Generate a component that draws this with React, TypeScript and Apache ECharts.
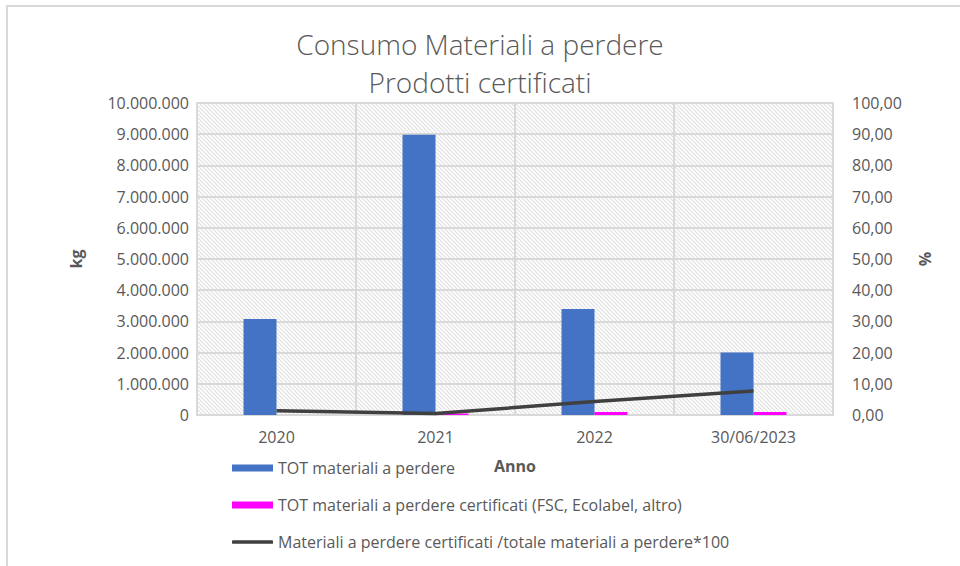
import React, { useEffect, useRef } from "react";
import * as echarts from "echarts";

const categories = ["2020", "2021", "2022", "30/06/2023"];
const totMateriali = [3080000, 8980000, 3400000, 2000000];
const totCertificati = [0, 45000, 100000, 95000];
const percentuale = [1.4, 0.5, 4.3, 7.7];

const seriesNames = [
  "TOT materiali a perdere",
  "TOT materiali a perdere certificati (FSC, Ecolabel, altro)",
  "Materiali a perdere certificati /totale materiali a perdere*100",
];
const titleLines = ["Consumo Materiali a perdere", "Prodotti certificati"];

const FONT = "'Open Sans', 'Noto Sans', sans-serif";
const GREY = "#595959";

function makeHatch(): any {
  const c = document.createElement("canvas");
  c.width = 8;
  c.height = 8;
  const ctx = c.getContext("2d")!;
  ctx.fillStyle = "#ffffff";
  ctx.fillRect(0, 0, 8, 8);
  ctx.strokeStyle = "#e0e0e0";
  ctx.lineWidth = 1.2;
  for (let k = -12; k <= 12; k += 4) {
    ctx.beginPath();
    ctx.moveTo(-2, -2 + k);
    ctx.lineTo(10, 10 + k);
    ctx.stroke();
  }
  return { image: c.toDataURL(), repeat: "repeat", imageWidth: 8, imageHeight: 8 };
}

const fmtKg = (v: number) => String(Math.round(v)).replace(/\B(?=(\d{3})+(?!\d))/g, ".");
const fmtPct = (v: number) => v.toFixed(2).replace(".", ",");

export default function App() {
  const ref = useRef<HTMLDivElement>(null);
  useEffect(() => {
    if (!ref.current) return;
    const chart = echarts.init(ref.current, null, { renderer: "svg" });
    const legendBase = {
      orient: "horizontal",
      left: 232,
      padding: 0,
      itemWidth: 41,
      itemHeight: 7,
      itemGap: 5,
      selectedMode: false,
      textStyle: { fontFamily: FONT, fontSize: 16, color: GREY },
    };
    const titleStyle = {
      fontFamily: FONT,
      fontWeight: 300,
      fontSize: 28,
      lineHeight: 34,
      color: GREY,
    };
    chart.setOption({
      animation: false,
      backgroundColor: "#ffffff",
      title: [
        { text: titleLines[0], left: "center", top: 27, padding: 0, textStyle: titleStyle },
        { text: titleLines[1], left: "center", top: 65, padding: 0, textStyle: titleStyle },
      ],
      graphic: [
        {
          type: "rect",
          shape: { x: 7, y: 6, width: 1200, height: 800 },
          style: { fill: "none", stroke: "#d9d9d9", lineWidth: 2 },
          silent: true,
        },
      ],
      legend: [
        { ...legendBase, top: 460, data: [{ name: seriesNames[0], icon: "rect" }] },
        { ...legendBase, top: 497, data: [{ name: seriesNames[1], icon: "rect" }] },
        {
          ...legendBase,
          top: 534,
          itemHeight: 3.5,
          data: [{ name: seriesNames[2], icon: "roundRect", itemStyle: { color: "#404040" } }],
        },
      ],
      grid: {
        left: 197,
        right: 127,
        top: 103,
        bottom: 151,
        show: true,
        backgroundColor: makeHatch(),
        borderColor: "#d9d9d9",
        borderWidth: 2,
      },
      xAxis: {
        type: "category",
        data: categories,
        name: "Anno",
        nameLocation: "middle",
        nameGap: 43,
        nameTextStyle: { fontFamily: FONT, fontSize: 16, fontWeight: "bold", color: GREY },
        axisTick: { show: false },
        axisLine: { show: true, lineStyle: { color: "#d9d9d9", width: 2 } },
        axisLabel: { margin: 14, fontFamily: FONT, fontSize: 16, color: GREY },
        splitLine: { show: true, interval: 0, lineStyle: { color: "#d9d9d9", width: 2 } },
      },
      yAxis: [
        {
          type: "value",
          min: 0,
          max: 10000000,
          interval: 1000000,
          name: "kg",
          nameLocation: "middle",
          nameRotate: 90,
          nameGap: 113,
          nameTextStyle: { fontFamily: FONT, fontSize: 16, fontWeight: "bold", color: GREY },
          axisLine: { show: false },
          axisTick: { show: false },
          axisLabel: { margin: 8, fontFamily: FONT, fontSize: 16, color: GREY, formatter: fmtKg },
          splitLine: { show: true, lineStyle: { color: "#d9d9d9", width: 2 } },
        },
        {
          type: "value",
          min: 0,
          max: 100,
          interval: 10,
          name: "%",
          nameLocation: "middle",
          nameRotate: 90,
          nameGap: 84,
          nameTextStyle: { fontFamily: FONT, fontSize: 16, fontWeight: "bold", color: GREY },
          axisLine: { show: false },
          axisTick: { show: false },
          axisLabel: { margin: 19, fontFamily: FONT, fontSize: 16, color: GREY, formatter: fmtPct },
          splitLine: { show: false },
        },
      ],
      series: [
        {
          name: seriesNames[0],
          type: "bar",
          data: totMateriali,
          barWidth: 33,
          barGap: "0%",
          itemStyle: { color: "#4472C4" },
        },
        {
          name: seriesNames[1],
          type: "bar",
          data: totCertificati,
          barWidth: 33,
          barGap: "0%",
          itemStyle: { color: "#FF00FF" },
        },
        {
          name: seriesNames[2],
          type: "line",
          yAxisIndex: 1,
          data: percentuale,
          symbol: "none",
          lineStyle: { color: "#404040", width: 3.5 },
          itemStyle: { color: "#404040" },
        },
      ],
    });
    return () => chart.dispose();
  }, []);
  return (
    <div
      ref={ref}
      style={{ position: "fixed", left: 0, top: 0, width: 960, height: 566 }}
    />
  );
}
